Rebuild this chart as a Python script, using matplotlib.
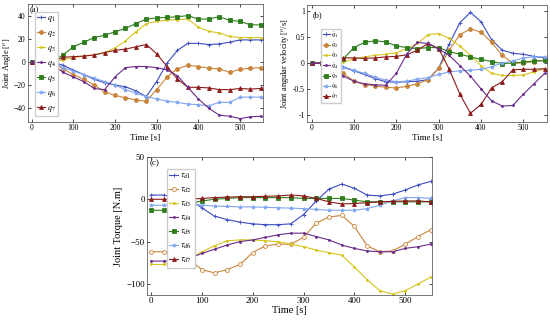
import matplotlib
matplotlib.use("Agg")
import matplotlib.pyplot as plt

plt.rcParams["font.family"] = ["Liberation Serif", "DejaVu Serif"]
plt.rcParams["mathtext.fontset"] = "stix"

# time samples (s), shared by the three panels
T = [0, 25, 50, 75, 100, 125, 150, 175, 200, 225, 250, 275,
     300, 325, 350, 375, 400, 425, 450, 475, 500, 525, 550]

# (a) joint angles [deg]
q1 = [0, 0, 0, -3, -7, -11, -15, -18, -20, -21.5, -25, -30, -17, -1, 10, 16, 16, 15, 15.5, 17, 19, 19, 19]
q2 = [0, 0, 0, -6, -11, -15, -20, -26, -29, -31, -33, -34, -24, -13, -6, -3, -4, -5.5, -6, -9, -6.5, -5.5, -5]
q3 = [0, 0, 0, 2, 3.5, 5, 6, 8, 12, 18, 26, 33, 35, 36, 36.5, 37, 30, 26.5, 25, 22, 21, 21, 21]
q4 = [0, 0, -2, -9, -13, -17, -23, -24, -13, -5, -4, -4, -5, -7, -12, -22, -32, -40, -46, -47, -49, -47.5, -47]
q5 = [0, 0, 0, 6, 13, 17, 21, 23, 26, 29, 33, 37, 38, 38.5, 39, 40, 37, 37, 39, 36, 35, 32, 32]
q6 = [0, 0, 0, -5, -8, -11, -14, -17, -20, -24, -27, -30, -32, -34, -35, -36.5, -37, -38, -35, -35, -30.5, -30.5, -30.5]
q7 = [0, 0, 0, 4, 4.5, 5, 6, 8, 10, 11, 13, 15, 7, -4, -15, -22, -22, -22.5, -24, -24, -23, -23.5, -23]

# (b) joint angular velocities [deg/s]
dq1 = [0, 0, 0, -0.08, -0.15, -0.22, -0.3, -0.36, -0.37, -0.36, -0.35, -0.32, -0.1, 0.37, 0.78, 0.98, 0.8, 0.45, 0.25, 0.19, 0.17, 0.13, 0.1]
dq2 = [0, 0, 0, -0.2, -0.35, -0.42, -0.44, -0.47, -0.48, -0.45, -0.4, -0.32, -0.1, 0.25, 0.55, 0.66, 0.6, 0.4, 0.15, 0.0, 0.0, 0.03, 0.05]
dq3 = [0, 0, 0, 0.02, 0.08, 0.12, 0.15, 0.17, 0.2, 0.28, 0.38, 0.55, 0.57, 0.48, 0.33, 0.15, -0.05, -0.2, -0.24, -0.24, -0.23, -0.17, -0.11]
dq4 = [0, 0, 0, -0.25, -0.35, -0.4, -0.42, -0.43, -0.2, 0.18, 0.4, 0.38, 0.27, 0.15, -0.05, -0.25, -0.5, -0.73, -0.83, -0.82, -0.6, -0.4, -0.2]
dq5 = [0, 0, 0, 0.08, 0.3, 0.4, 0.43, 0.41, 0.33, 0.3, 0.28, 0.3, 0.3, 0.22, 0.17, 0.12, 0.07, 0.03, -0.01, 0.0, 0.02, 0.04, 0.05]
dq6 = [0, 0, 0, -0.07, -0.14, -0.2, -0.27, -0.33, -0.36, -0.35, -0.31, -0.28, -0.22, -0.17, -0.15, -0.14, -0.12, -0.07, 0.0, 0.04, 0.1, 0.12, 0.12]
dq7 = [0, 0, 0, 0.1, 0.1, 0.09, 0.1, 0.12, 0.13, 0.16, 0.25, 0.38, 0.28, -0.12, -0.6, -0.97, -0.8, -0.48, -0.36, -0.13, -0.12, -0.12, -0.11]

# (c) joint torques [N.m]
td1 = [5, 5, 2, 0, -10, -20, -24, -27, -29, -30, -30, -29, -18, -2, 12, 18, 13, 5, 4, 6, 11, 17, 21]
td2 = [-62, -62, -66, -71, -83, -87, -83, -77, -63, -55, -53, -53, -45, -28, -21, -19, -32, -55, -62, -61, -53, -44, -36]
td3 = [-77, -77, -74, -70, -62, -55, -49, -48, -48, -49, -50, -53, -56, -60, -63, -66, -80, -95, -108, -112, -108, -100, -92]
td4 = [-73, -73, -72, -70, -64, -59, -54, -50, -48, -45, -42, -40, -40, -44, -48, -54, -58, -61, -62, -62, -58, -56, -53]
td5 = [-13, -13, -10, -5, -2, 0, 1, 2, 2, 2, 2, 2, 1, 1, 1, 1, -1, -3, -3, -3, -3, -3, -3]
td6 = [-7, -7, -6, -5, -7, -8, -8.5, -9, -9, -9.5, -10, -10.5, -11, -12, -13, -13, -13, -11, -7, -2, 2, 2, 1]
td7 = [0, 0, 0, 0, 1, 2, 2.5, 3, 3, 3.5, 4, 5, 4, 1, -3, -5.5, -5, -4, -3, -2.5, -2, -2, -3]

COLORS = ["#3b4cc0", "#c8843a", "#d6c41e", "#6a2c8a", "#2f7d1c", "#80a6f0", "#8b1a1a"]
MARKERS = ["+", "o", ".", ".", "s", "*", "^"]


def style(ax, fs):
    ax.tick_params(direction="in", top=True, right=True, labelsize=fs,
                   length=2, width=0.5, pad=1.5)
    for s in ax.spines.values():
        s.set_linewidth(0.5)
        s.set_color("#444444")


def draw(ax, series, labels, hollow=()):
    for i, (y, lab) in enumerate(zip(series, labels)):
        face = "white" if i in hollow else COLORS[i]
        ax.plot(T, y, color=COLORS[i], marker=MARKERS[i], markersize=2.8,
                markerfacecolor=face, markeredgewidth=0.6, linewidth=0.8,
                label=lab, zorder=3 if i == 3 else 2)


def legend(ax, anchor, fs, spacing):
    ax.legend(loc="upper left", bbox_to_anchor=anchor, fontsize=fs,
              handlelength=1.0, handletextpad=0.25, labelspacing=spacing,
              borderpad=0.25, borderaxespad=0, framealpha=1,
              edgecolor="#cccccc", fancybox=False)


fig = plt.figure(figsize=(5.5, 3.22), dpi=100)

# (a)
ax = fig.add_axes([0.05, 0.621, 0.428, 0.3665])
draw(ax, [q1, q2, q3, q4, q5, q6, q7], [rf"$q_{{{i}}}$" for i in range(1, 8)])
ax.set_xlim(-10, 555)
ax.set_ylim(-52, 50)
ax.set_xticks([0, 100, 200, 300, 400, 500])
ax.set_yticks([-40, -20, 0, 20, 40])
style(ax, 5.5)
ax.set_xlabel("Time [s]", fontsize=6.5, labelpad=1)
ax.set_ylabel("Joint Angle [$^o$]", fontsize=6, labelpad=0)
ax.text(0.01, 0.985, "(a)", transform=ax.transAxes, fontsize=6, va="top")
legend(ax, (0.03, 0.93), 6, 0.6)

# (b)
ax = fig.add_axes([0.558, 0.621, 0.436, 0.363])
draw(ax, [dq1, dq2, dq3, dq4, dq5, dq6, dq7],
     [rf"$\dot{{q}}_{{{i}}}$" for i in range(1, 8)])
ax.set_xlim(-11, 555)
ax.set_ylim(-1.14, 1.12)
ax.set_xticks([0, 100, 200, 300, 400, 500])
ax.set_yticks([-1, -0.5, 0, 0.5, 1])
ax.set_yticklabels(["-1", "-0.5", "0", "0.5", "1"])
style(ax, 5.5)
ax.set_xlabel("Time [s]", fontsize=6.5, labelpad=1)
ax.set_ylabel("Joint angular velocity [$^o$/s]", fontsize=6, labelpad=1)
ax.text(0.025, 0.95, "(b)", transform=ax.transAxes, fontsize=6, va="top")
legend(ax, (0.06, 0.80), 4.8, 0.12)

# (c)
ax = fig.add_axes([0.267, 0.084, 0.518, 0.4286])
draw(ax, [td1, td2, td3, td4, td5, td6, td7],
     [rf"$\tau_{{d{i}}}$" for i in range(1, 8)], hollow=(1,))
ax.set_xlim(-8, 552)
ax.set_ylim(-113, 50)
ax.set_xticks([0, 100, 200, 300, 400, 500])
ax.set_yticks([-100, -50, 0, 50])
style(ax, 6.5)
ax.set_xlabel("Time [s]", fontsize=7.5, labelpad=1)
ax.set_ylabel("Joint Torque [N.m]", fontsize=7.5, labelpad=2)
ax.text(0.01, 0.985, "(c)", transform=ax.transAxes, fontsize=6.5, va="top")
legend(ax, (0.07, 0.91), 6.5, 0.5)

fig.savefig("out.png", dpi=100)
